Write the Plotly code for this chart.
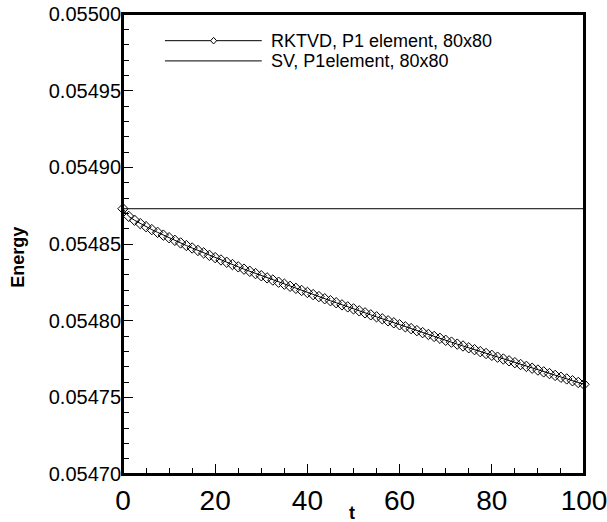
import plotly.graph_objects as go

# ---- data ----
t_rk = [0, 1.25, 2.5, 3.75, 5, 6.25, 7.5, 8.75, 10,
        11.25, 12.5, 13.75, 15, 16.25, 17.5, 18.75, 20,
        21.25, 22.5, 23.75, 25, 26.25, 27.5, 28.75, 30,
        31.25, 32.5, 33.75, 35, 36.25, 37.5, 38.75, 40,
        41.25, 42.5, 43.75, 45, 46.25, 47.5, 48.75, 50,
        51.25, 52.5, 53.75, 55, 56.25, 57.5, 58.75, 60,
        61.25, 62.5, 63.75, 65, 66.25, 67.5, 68.75, 70,
        71.25, 72.5, 73.75, 75, 76.25, 77.5, 78.75, 80,
        81.25, 82.5, 83.75, 85, 86.25, 87.5, 88.75, 90,
        91.25, 92.5, 93.75, 95, 96.25, 97.5, 98.75, 100]
e_rk = [0.0548730, 0.0548680, 0.0548655, 0.0548633, 0.0548613, 0.0548594, 0.0548576, 0.0548558, 0.0548541,
        0.0548524, 0.0548507, 0.0548490, 0.0548474, 0.0548458, 0.0548442, 0.0548426, 0.0548411,
        0.0548396, 0.0548381, 0.0548366, 0.0548351, 0.0548336, 0.0548322, 0.0548307, 0.0548293,
        0.0548279, 0.0548265, 0.0548251, 0.0548238, 0.0548224, 0.0548211, 0.0548197, 0.0548184,
        0.0548170, 0.0548157, 0.0548143, 0.0548130, 0.0548117, 0.0548103, 0.0548090, 0.0548077,
        0.0548064, 0.0548051, 0.0548038, 0.0548025, 0.0548012, 0.0547999, 0.0547986, 0.0547973,
        0.0547960, 0.0547948, 0.0547935, 0.0547922, 0.0547910, 0.0547897, 0.0547885, 0.0547872,
        0.0547860, 0.0547847, 0.0547835, 0.0547823, 0.0547811, 0.0547798, 0.0547786, 0.0547774,
        0.0547762, 0.0547750, 0.0547738, 0.0547726, 0.0547714, 0.0547702, 0.0547690, 0.0547678,
        0.0547666, 0.0547655, 0.0547643, 0.0547631, 0.0547620, 0.0547608, 0.0547597, 0.0547585]

t_sv = [0, 100]
e_sv = [0.054873, 0.054873]

series_names = ["RKTVD, P1 element, 80x80", "SV, P1element, 80x80"]
x_ticks = [0, 20, 40, 60, 80, 100]
y_ticks = [0.05470, 0.05475, 0.05480, 0.05485, 0.05490, 0.05495, 0.05500]
x_range = [0, 100]
y_range = [0.05470, 0.05500]
x_title = "t"
y_title = "Energy"

FONT = "Liberation Sans, Arial, Helvetica, sans-serif"

fig = go.Figure()
fig.add_trace(go.Scatter(
    x=t_rk, y=e_rk, mode="lines+markers", name=series_names[0],
    line=dict(color="black", width=1),
    marker=dict(symbol="diamond-open", size=8, color="black", line=dict(width=1, color="black")),
    cliponaxis=False, showlegend=False))
fig.add_trace(go.Scatter(
    x=t_sv, y=e_sv, mode="lines", name=series_names[1],
    line=dict(color="black", width=1), showlegend=False))

# custom legend (long sample lines as in the reference)
leg_rows = [(0.942, True), (0.898, False)]
for (yp, has_marker), name in zip(leg_rows, series_names):
    fig.add_shape(type="line", xref="paper", yref="paper",
                  x0=0.091, x1=0.301, y0=yp, y1=yp,
                  line=dict(color="black", width=1))
    if has_marker:
        fig.add_shape(type="path", xref="paper", yref="paper",
                      path=f"M 0.1965 {yp+0.0072} L 0.2030 {yp} L 0.1965 {yp-0.0072} L 0.1900 {yp} Z",
                      fillcolor="white", line=dict(color="black", width=1))
    fig.add_annotation(xref="paper", yref="paper", x=0.316, y=yp,
                       xanchor="left", yanchor="middle", showarrow=False,
                       text=name, font=dict(family=FONT, size=18, color="black"))

# frame drawn as four lines
for (x0, y0, x1, y1) in [(0, 0, 1, 0), (0, 1, 1, 1), (0, 0, 0, 1), (1, 0, 1, 1)]:
    fig.add_shape(type="line", xref="paper", yref="paper", x0=x0, y0=y0, x1=x1, y1=y1,
                  line=dict(color="black", width=2), layer="above")

# axis titles
fig.add_annotation(xref="paper", yref="paper", x=0, y=0.47, xanchor="center", yanchor="middle",
                   xshift=-105, textangle=-90, showarrow=False,
                   text=f"<b>{y_title}</b>", font=dict(family=FONT, size=18, color="black"))
fig.add_annotation(xref="paper", yref="paper", x=0.496, y=0, xanchor="center", yanchor="middle",
                   yshift=-39, showarrow=False,
                   text=f"<b>{x_title}</b>", font=dict(family=FONT, size=18, color="black"))

axis_common = dict(
    showline=True, linecolor="black", linewidth=2, mirror=True,
    showgrid=False, zeroline=False, ticks="inside",
    tickcolor="black", tickwidth=1, ticklen=10, automargin=False,
)
fig.update_xaxes(
    range=x_range, tickvals=x_ticks, **axis_common,
    minor=dict(dtick=5, ticks="inside", ticklen=6, tickcolor="black", tickwidth=1, showgrid=False),
    tickfont=dict(family=FONT, size=28, color="black"),
    ticklabeloverflow="allow",
)
fig.update_yaxes(
    range=y_range, tickvals=y_ticks, tickformat=".5f", **axis_common,
    minor=dict(dtick=0.00001, ticks="inside", ticklen=6, tickcolor="black", tickwidth=1, showgrid=False),
    tickfont=dict(family=FONT, size=20, color="black"),
    ticklabeloverflow="allow", ticklabelstandoff=-4,
)
fig.update_layout(
    width=607, height=522,
    margin=dict(l=123, r=23, t=14, b=48),
    paper_bgcolor="white", plot_bgcolor="white",
    showlegend=False,
    font=dict(family=FONT, color="black"),
)
fig.write_html("out.html",
               config={"displayModeBar": False},
               post_script="document.body.style.margin='0';document.body.style.overflow='hidden';")
